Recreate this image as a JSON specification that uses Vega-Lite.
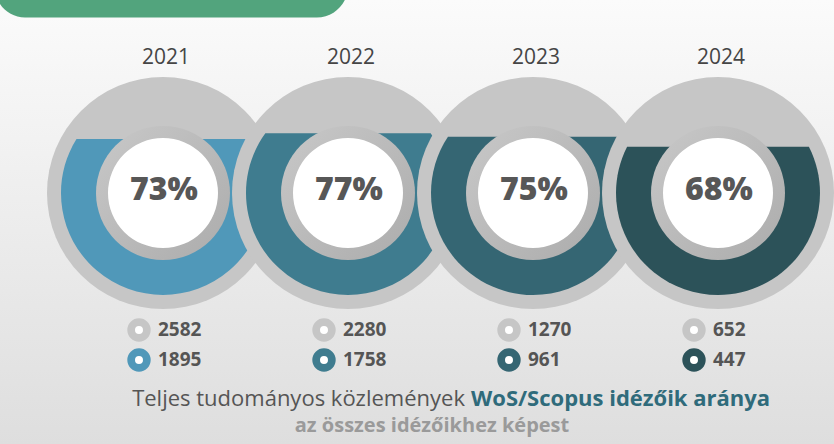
{
  "$schema": "https://vega.github.io/schema/vega-lite/v6.json",
  "width": 834,
  "height": 444,
  "autosize": {"type": "fit", "contains": "padding"},
  "padding": 0,
  "background": "#f0f0f0",
  "config": {"view": {"stroke": null}, "font": "Open Sans"},
  "data": {
    "values": [
      {"year": 2021, "pct": 73, "total": 2582, "wos": 1895, "fill": 0.765},
      {"year": 2022, "pct": 77, "total": 2280, "wos": 1758, "fill": 0.793},
      {"year": 2023, "pct": 75, "total": 1270, "wos": 961, "fill": 0.776},
      {"year": 2024, "pct": 68, "total": 652, "wos": 447, "fill": 0.727}
    ]
  },
  "transform": [
    {"calculate": "round((2*datum.fill-1)*10000)/10000", "as": "d"},
    {"calculate": "round(sqrt(1-datum.d*datum.d)*10000)/10000", "as": "w"},
    {"calculate": "'M' + (-datum.w) + ',' + (-datum.d) + 'A1,1,0,1,0,' + datum.w + ',' + (-datum.d) + 'Z'", "as": "seg"},
    {"calculate": "datum.pct+'%'", "as": "pctLabel"}
  ],
  "encoding": {
    "x": {"field": "year", "type": "quantitative", "scale": {"domain": [2020.11892, 2024.62703], "nice": false, "zero": false}, "axis": null},
    "y": {"datum": 0, "type": "quantitative", "scale": {"domain": [-1.35676, 1.04324], "nice": false, "zero": false}, "axis": null}
  },
  "layer": [
    {
      "transform": [{"filter": "datum.year==2021"}],
      "mark": {"type": "rect", "fill": {"gradient": "linear", "x1": 0, "y1": 0, "x2": 0, "y2": 1, "stops": [{"offset": 0, "color": "#fbfbfb"}, {"offset": 1, "color": "#dedede"}]}},
      "encoding": {
        "x": {"datum": 2020.11892, "type": "quantitative"},
        "x2": {"datum": 2024.62703},
        "y": {"datum": -1.35676, "type": "quantitative"},
        "y2": {"datum": 1.04324}
      }
    },
    {
      "transform": [{"filter": "datum.year==2021"}],
      "mark": {"type": "rect", "color": "#52a47d", "cornerRadiusBottomLeft": 30, "cornerRadiusBottomRight": 32, "clip": true},
      "encoding": {
        "x": {"datum": 2020.0919, "type": "quantitative"},
        "x2": {"datum": 2022.0},
        "y": {"datum": 0.9486, "type": "quantitative"},
        "y2": {"datum": 1.2865}
      }
    },
    {
      "mark": {"type": "text", "fontSize": 21, "color": "#454545", "baseline": "middle", "dx": 3},
      "encoding": {
        "y": {"datum": 0.7297, "type": "quantitative"},
        "text": {"field": "year", "type": "nominal"}
      }
    },
    {
      "transform": [{"filter": "datum.year==2021"}],
      "layer": [
        {"mark": {"type": "point", "shape": "circle", "filled": true, "size": 53824, "color": "#c6c6c6", "opacity": 1, "strokeWidth": 0}},
        {"mark": {"type": "point", "filled": true, "size": 41616, "opacity": 1, "strokeWidth": 0}, "encoding": {"shape": {"field": "seg", "type": "nominal", "scale": null}, "color": {"field": "year", "type": "nominal", "scale": {"domain": [2021, 2022, 2023, 2024], "range": ["#5098b9", "#3f7c8f", "#356673", "#2c5259"]}, "legend": null}}},
        {"mark": {"type": "point", "shape": "circle", "filled": true, "size": 17956, "opacity": 1, "strokeWidth": 0, "fill": {"gradient": "linear", "x1": 0, "y1": 0, "x2": 1, "y2": 1, "stops": [{"offset": 0, "color": "#c8c8c8"}, {"offset": 1, "color": "#acacac"}]}}},
        {"mark": {"type": "point", "shape": "circle", "filled": true, "size": 12100, "color": "#ffffff", "opacity": 1, "strokeWidth": 0}},
        {"mark": {"type": "text", "fontSize": 32, "fontWeight": 800, "color": "#575757", "baseline": "alphabetic", "dx": 1}, "encoding": {"y": {"datum": -0.0378, "type": "quantitative"}, "text": {"field": "pctLabel", "type": "nominal"}}}
      ]
    },
    {
      "transform": [{"filter": "datum.year==2022"}],
      "layer": [
        {"mark": {"type": "point", "shape": "circle", "filled": true, "size": 53824, "color": "#c6c6c6", "opacity": 1, "strokeWidth": 0}},
        {"mark": {"type": "point", "filled": true, "size": 41616, "opacity": 1, "strokeWidth": 0}, "encoding": {"shape": {"field": "seg", "type": "nominal", "scale": null}, "color": {"field": "year", "type": "nominal", "legend": null}}},
        {"mark": {"type": "point", "shape": "circle", "filled": true, "size": 17956, "opacity": 1, "strokeWidth": 0, "fill": {"gradient": "linear", "x1": 0, "y1": 0, "x2": 1, "y2": 1, "stops": [{"offset": 0, "color": "#c8c8c8"}, {"offset": 1, "color": "#acacac"}]}}},
        {"mark": {"type": "point", "shape": "circle", "filled": true, "size": 12100, "color": "#ffffff", "opacity": 1, "strokeWidth": 0}},
        {"mark": {"type": "text", "fontSize": 32, "fontWeight": 800, "color": "#575757", "baseline": "alphabetic", "dx": 1}, "encoding": {"y": {"datum": -0.0378, "type": "quantitative"}, "text": {"field": "pctLabel", "type": "nominal"}}}
      ]
    },
    {
      "transform": [{"filter": "datum.year==2023"}],
      "layer": [
        {"mark": {"type": "point", "shape": "circle", "filled": true, "size": 53824, "color": "#c6c6c6", "opacity": 1, "strokeWidth": 0}},
        {"mark": {"type": "point", "filled": true, "size": 41616, "opacity": 1, "strokeWidth": 0}, "encoding": {"shape": {"field": "seg", "type": "nominal", "scale": null}, "color": {"field": "year", "type": "nominal", "legend": null}}},
        {"mark": {"type": "point", "shape": "circle", "filled": true, "size": 17956, "opacity": 1, "strokeWidth": 0, "fill": {"gradient": "linear", "x1": 0, "y1": 0, "x2": 1, "y2": 1, "stops": [{"offset": 0, "color": "#c8c8c8"}, {"offset": 1, "color": "#acacac"}]}}},
        {"mark": {"type": "point", "shape": "circle", "filled": true, "size": 12100, "color": "#ffffff", "opacity": 1, "strokeWidth": 0}},
        {"mark": {"type": "text", "fontSize": 32, "fontWeight": 800, "color": "#575757", "baseline": "alphabetic", "dx": 1}, "encoding": {"y": {"datum": -0.0378, "type": "quantitative"}, "text": {"field": "pctLabel", "type": "nominal"}}}
      ]
    },
    {
      "transform": [{"filter": "datum.year==2024"}],
      "layer": [
        {"mark": {"type": "point", "shape": "circle", "filled": true, "size": 53824, "color": "#c6c6c6", "opacity": 1, "strokeWidth": 0}},
        {"mark": {"type": "point", "filled": true, "size": 41616, "opacity": 1, "strokeWidth": 0}, "encoding": {"shape": {"field": "seg", "type": "nominal", "scale": null}, "color": {"field": "year", "type": "nominal", "legend": null}}},
        {"mark": {"type": "point", "shape": "circle", "filled": true, "size": 17956, "opacity": 1, "strokeWidth": 0, "fill": {"gradient": "linear", "x1": 0, "y1": 0, "x2": 1, "y2": 1, "stops": [{"offset": 0, "color": "#c8c8c8"}, {"offset": 1, "color": "#acacac"}]}}},
        {"mark": {"type": "point", "shape": "circle", "filled": true, "size": 12100, "color": "#ffffff", "opacity": 1, "strokeWidth": 0}},
        {"mark": {"type": "text", "fontSize": 32, "fontWeight": 800, "color": "#575757", "baseline": "alphabetic", "dx": 1}, "encoding": {"y": {"datum": -0.0378, "type": "quantitative"}, "text": {"field": "pctLabel", "type": "nominal"}}}
      ]
    },
    {
      "mark": {"type": "point", "shape": "circle", "size": 246, "strokeWidth": 7.7, "stroke": "#c6c6c6", "fill": "#ffffff", "filled": true, "opacity": 1, "xOffset": -24},
      "encoding": {"y": {"datum": -0.7405, "type": "quantitative"}}
    },
    {
      "mark": {"type": "point", "shape": "circle", "size": 246, "strokeWidth": 7.7, "fill": "#ffffff", "filled": true, "opacity": 1, "xOffset": -24},
      "encoding": {"y": {"datum": -0.9027, "type": "quantitative"}, "stroke": {"field": "year", "type": "nominal", "scale": {"domain": [2021, 2022, 2023, 2024], "range": ["#5098b9", "#3f7c8f", "#356673", "#2c5259"]}, "legend": null}}
    },
    {
      "mark": {"type": "text", "fontSize": 19, "fontWeight": "bold", "color": "#555555", "align": "left", "baseline": "middle", "dx": -5},
      "encoding": {"y": {"datum": -0.7405, "type": "quantitative"}, "text": {"field": "total", "type": "nominal"}}
    },
    {
      "mark": {"type": "text", "fontSize": 19, "fontWeight": "bold", "color": "#555555", "align": "left", "baseline": "middle", "dx": -5},
      "encoding": {"y": {"datum": -0.9027, "type": "quantitative"}, "text": {"field": "wos", "type": "nominal"}}
    },
    {
      "transform": [{"filter": "datum.year==2021"}],
      "mark": {"type": "text", "fontSize": 22, "color": "#555555", "align": "right", "baseline": "middle", "dx": -3, "text": "Teljes tudományos közlemények"},
      "encoding": {"x": {"datum": 2022.6486, "type": "quantitative"}, "y": {"datum": -1.1135, "type": "quantitative"}}
    },
    {
      "transform": [{"filter": "datum.year==2021"}],
      "mark": {"type": "text", "fontSize": 22, "fontWeight": "bold", "color": "#2f6b7b", "align": "left", "baseline": "middle", "dx": 3, "text": "WoS/Scopus idézőik aránya"},
      "encoding": {"x": {"datum": 2022.6486, "type": "quantitative"}, "y": {"datum": -1.1135, "type": "quantitative"}}
    },
    {
      "transform": [{"filter": "datum.year==2021"}],
      "mark": {"type": "text", "fontSize": 20, "fontWeight": "bold", "color": "#9a9a9a", "align": "center", "baseline": "middle", "text": "az összes idézőikhez képest"},
      "encoding": {"x": {"datum": 2022.454, "type": "quantitative"}, "y": {"datum": -1.2595, "type": "quantitative"}}
    }
  ]
}
